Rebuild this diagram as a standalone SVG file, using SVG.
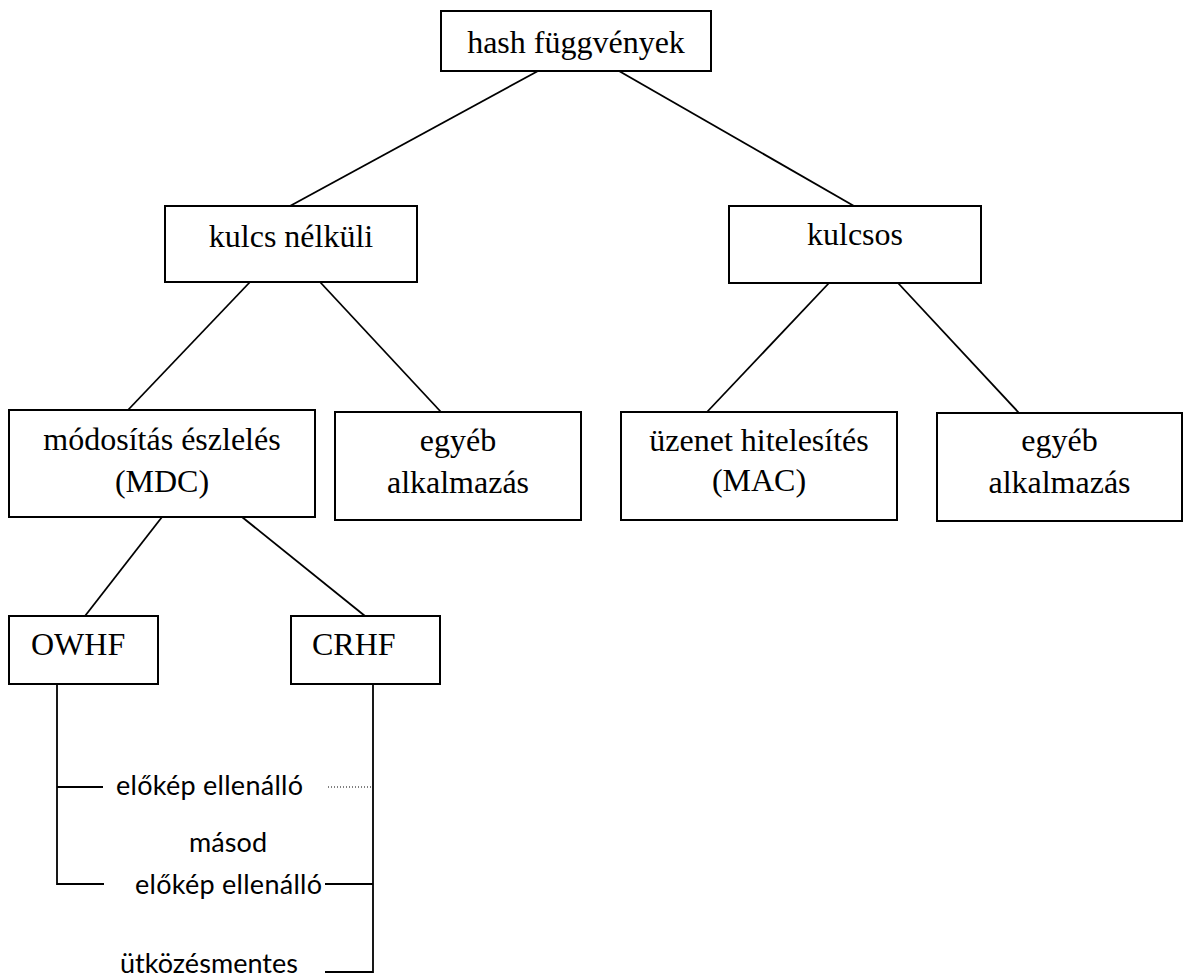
<svg xmlns="http://www.w3.org/2000/svg" width="1183" height="978" viewBox="0 0 1183 978">
<style>
.box{fill:#fff;stroke:#000;stroke-width:2}
.ln{stroke:#000;stroke-width:1.8;fill:none}
.dot{stroke:#000;stroke-width:1;stroke-dasharray:1 2;fill:none}
.s{font-family:Lato,"Open Sans","Liberation Sans",sans-serif;font-size:27px;fill:#000}
</style>
<rect width="1183" height="978" fill="#fff"/>
<g id="connectors">
<line class="ln" x1="538" y1="71" x2="290" y2="206"/>
<line class="ln" x1="619" y1="71" x2="854" y2="206"/>
<line class="ln" x1="250" y1="282" x2="128" y2="410"/>
<line class="ln" x1="320" y1="282" x2="441" y2="412"/>
<line class="ln" x1="829" y1="283" x2="707" y2="412"/>
<line class="ln" x1="898" y1="283" x2="1019" y2="413"/>
<line class="ln" x1="162" y1="517" x2="85" y2="616"/>
<line class="ln" x1="242" y1="517" x2="365" y2="616"/>
<polyline class="ln" points="57,684 57,884 104,884"/>
<line class="ln" x1="57" y1="787" x2="103" y2="787"/>
<polyline class="ln" points="373,684 373,972 325,972"/>
<line class="ln" x1="325" y1="884" x2="373" y2="884"/>
<line class="dot" x1="328" y1="787" x2="371" y2="787"/>
</g>
<g font-family="'Liberation Serif', 'Times New Roman', Tinos, serif" font-size="32" fill="#000" text-anchor="middle">
<g id="hash">
<rect class="box" x="441" y="11" width="270" height="60"/>
<text x="576" y="53">hash függvények</text>
</g>
<g id="kulcs-nelkuli">
<rect class="box" x="165" y="206" width="252" height="76"/>
<text x="291" y="247">kulcs nélküli</text>
</g>
<g id="kulcsos">
<rect class="box" x="729" y="206" width="252" height="77"/>
<text x="855" y="245">kulcsos</text>
</g>
<g id="mdc">
<rect class="box" x="9" y="410" width="306" height="107"/>
<text x="162" y="450">módosítás észlelés</text>
<text x="162" y="492">(MDC)</text>
</g>
<g id="egyeb1">
<rect class="box" x="335" y="412" width="246" height="108"/>
<text x="458" y="451">egyéb</text>
<text x="458" y="493">alkalmazás</text>
</g>
<g id="mac">
<rect class="box" x="621" y="412" width="276" height="108"/>
<text x="759" y="451">üzenet hitelesítés</text>
<text x="759" y="491">(MAC)</text>
</g>
<g id="egyeb2">
<rect class="box" x="937" y="413" width="245" height="108"/>
<text x="1059.5" y="451">egyéb</text>
<text x="1059.5" y="493">alkalmazás</text>
</g>
<g id="owhf">
<rect class="box" x="9" y="616" width="149" height="68"/>
<text x="31" y="655" text-anchor="start">OWHF</text>
</g>
<g id="crhf">
<rect class="box" x="291" y="616" width="149" height="68"/>
<text x="312" y="655" text-anchor="start">CRHF</text>
</g>
</g>
<g id="labels">
<text class="s" x="116" y="795" textLength="187">előkép ellenálló</text>
<text class="s" x="189" y="852" textLength="78">másod</text>
<text class="s" x="135" y="894" textLength="187">előkép ellenálló</text>
<text class="s" x="120" y="973" textLength="178">ütközésmentes</text>
</g>
</svg>
